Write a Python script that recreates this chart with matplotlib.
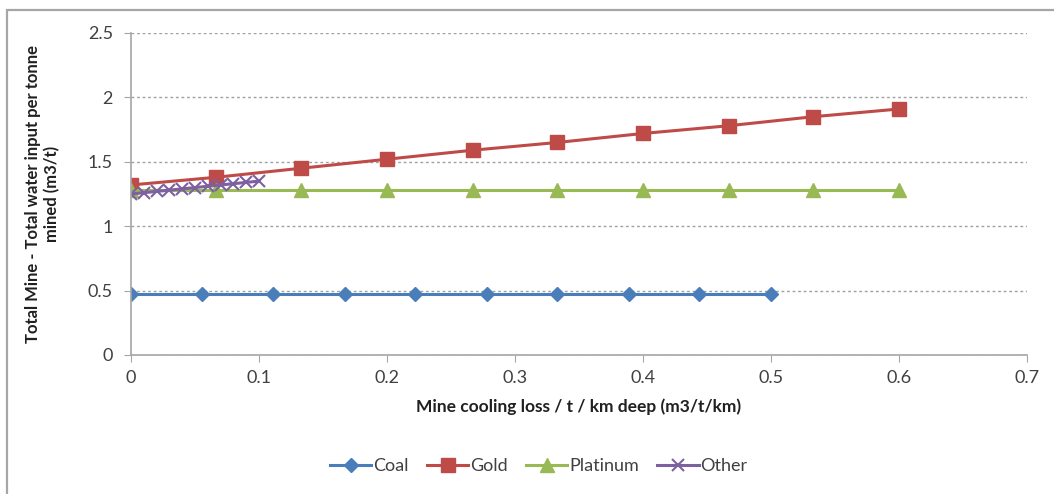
import matplotlib.pyplot as plt
import matplotlib.patches as patches

plt.rcParams['font.family'] = ['Lato', 'DejaVu Sans']

# data
coal_x = [0, 0.0556, 0.111, 0.167, 0.222, 0.278, 0.333, 0.389, 0.444, 0.5]
coal_y = [0.47, 0.47, 0.47, 0.47, 0.47, 0.47, 0.47, 0.47, 0.47, 0.47]

gold_x = [0, 0.0667, 0.133, 0.2, 0.267, 0.333, 0.4, 0.467, 0.533, 0.6]
gold_y = [1.32, 1.38, 1.45, 1.52, 1.59, 1.65, 1.72, 1.78, 1.85, 1.91]

plat_x = [0, 0.0667, 0.133, 0.2, 0.267, 0.333, 0.4, 0.467, 0.533, 0.6]
plat_y = [1.28, 1.28, 1.28, 1.28, 1.28, 1.28, 1.28, 1.28, 1.28, 1.28]

other_x = [0, 0.01, 0.02, 0.03, 0.04, 0.05, 0.06, 0.07, 0.08, 0.09, 0.1]
other_y = [1.25, 1.26, 1.27, 1.28, 1.29, 1.30, 1.31, 1.32, 1.33, 1.34, 1.35]

fig = plt.figure(figsize=(10.54, 4.94), dpi=100)
ax = fig.add_axes([0.1243, 0.2814, 0.8501, 0.6518])

# gray frame round the whole chart
fig.patches.append(patches.Rectangle((7 / 1054, -0.05), 1.2, 1.05 - 10 / 494,
                                     transform=fig.transFigure, fill=False,
                                     edgecolor='#a6a6a6', linewidth=1.6))

ax.plot(coal_x, coal_y, color='#4A7EBB', marker='D', markersize=7, linewidth=2.2, label='Coal')
ax.plot(gold_x, gold_y, color='#BE4B48', marker='s', markersize=10, linewidth=2.2, label='Gold')
ax.plot(plat_x, plat_y, color='#98B954', marker='^', markersize=10, linewidth=2.2, label='Platinum')
ax.plot(other_x, other_y, color='#7D60A0', marker='x', markersize=9, markeredgewidth=1.5,
        linewidth=2.2, label='Other')

ax.set_xlim(0, 0.7)
ax.set_ylim(0, 2.5)
ax.set_xticks([0, 0.1, 0.2, 0.3, 0.4, 0.5, 0.6, 0.7])
ax.set_xticklabels(['0', '0.1', '0.2', '0.3', '0.4', '0.5', '0.6', '0.7'])
ax.set_yticks([0, 0.5, 1, 1.5, 2, 2.5])
ax.set_yticklabels(['0', '0.5', '1', '1.5', '2', '2.5'])

ax.yaxis.grid(True, linestyle=(0, (2, 2)), color='#a0a0a0', linewidth=1)
ax.set_axisbelow(True)
for s in ['top', 'right']:
    ax.spines[s].set_visible(False)
for s in ['left', 'bottom']:
    ax.spines[s].set_color('#a6a6a6')
    ax.spines[s].set_linewidth(1.2)
ax.tick_params(colors='#a6a6a6', labelcolor='#404040', labelsize=13, length=5)
ax.tick_params(axis='x', pad=6)
ax.tick_params(axis='y', pad=8)

ax.set_xlabel('Mine cooling loss / t / km deep (m3/t/km)', fontsize=12.5, fontweight='bold',
              color='#202020', labelpad=9)
ax.set_ylabel('Total Mine - Total water input per tonne\nmined (m3/t)', fontsize=12,
              fontweight='bold', color='#202020', labelpad=20)

ax.legend(loc='center', bbox_to_anchor=(0.455, -0.345), ncol=4, frameon=False,
          fontsize=13, handlelength=2.3, columnspacing=1.0, handletextpad=0.1,
          labelcolor='#404040')

fig.savefig('out.png', dpi=100, facecolor='white')
